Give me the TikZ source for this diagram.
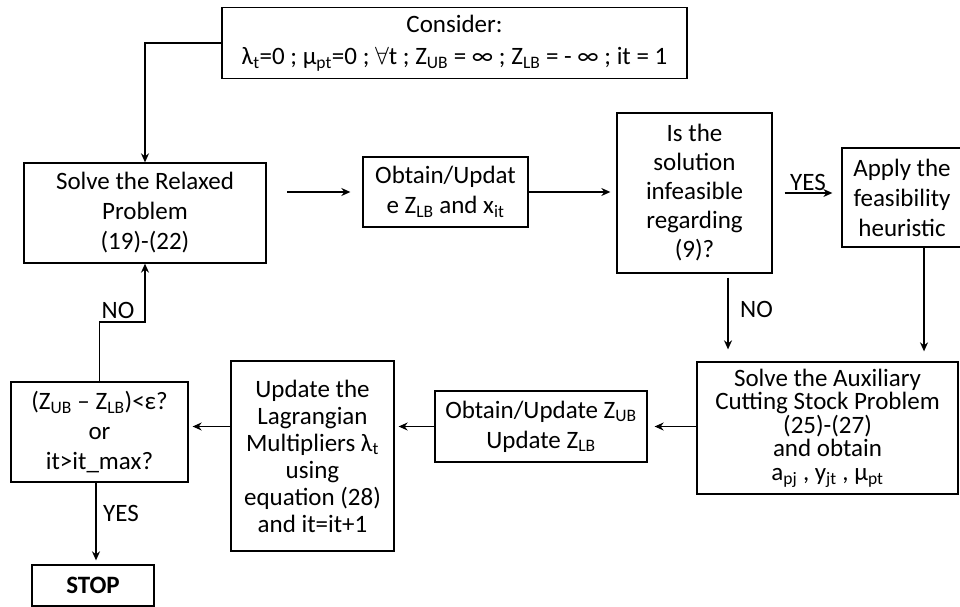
\documentclass[tikz,border=0pt]{standalone}
\usepackage{fontspec}
\setmainfont{Carlito}
\usetikzlibrary{arrows.meta}
\newcommand\sbs[1]{\textsubscript{#1}}
\begin{document}
\begin{tikzpicture}[x=1pt,y=-1pt,
  font=\fontsize{25}{30}\selectfont,
  box/.style={draw, line width=1.3pt, align=center, inner sep=1pt},
  arr/.style={-{Stealth[length=9pt,width=8pt]}, line width=1.3pt},
  lbl/.style={inner sep=0pt}]
\useasboundingbox (0,0) rectangle (960,607);
% boxes
\node[box, minimum width=465pt, minimum height=71pt, font=\fontsize{25}{32}\selectfont] (top) at (454.5,43)
  {Consider:\\ λ\sbs{t}=0 ; μ\sbs{pt}=0 ; $\forall$t ; Z\sbs{UB} = ∞ ; Z\sbs{LB} = - ∞ ; it = 1};
\node[box, minimum width=242pt, minimum height=100pt] (solve) at (145,213)
  {Solve the Relaxed\\Problem\\(19)-(22)};
\node[box, minimum width=165pt, minimum height=70pt] (obt1) at (445.5,192)
  {Obtain/Updat\\e Z\sbs{LB} and x\sbs{it}};
\node[box, minimum width=155pt, minimum height=160pt, font=\fontsize{25}{29}\selectfont] (isq) at (694.5,193)
  {Is the\\solution\\infeasible\\regarding\\(9)?};
\node[box, minimum width=120pt, minimum height=99pt] (apply) at (902,197.5)
  {Apply the\\feasibility\\heuristic};
\node[box, minimum width=261pt, minimum height=132pt, font=\fontsize{25}{23.5}\selectfont] (aux) at (827.5,428)
  {Solve the Auxiliary\\Cutting Stock Problem\\(25)-(27)\\and obtain\\a\sbs{pj} , y\sbs{jt} , μ\sbs{pt}};
\node[box, minimum width=212pt, minimum height=71pt] (obt2) at (541,426.5)
  {Obtain/Update Z\sbs{UB}\\Update Z\sbs{LB}};
\node[box, minimum width=163pt, minimum height=190pt, font=\fontsize{25}{27}\selectfont] (upd) at (312.5,456)
  {Update the\\Lagrangian\\Multipliers λ\sbs{t}\\using\\equation (28)\\and it=it+1};
\node[box, minimum width=177pt, minimum height=100pt] (chk) at (99.5,432)
  {(Z\sbs{UB} – Z\sbs{LB})<ε?\\or\\it>it\_max?};
\node[box, minimum width=122pt, minimum height=41pt, font=\fontsize{25}{30}\selectfont\bfseries] (stop) at (93,585.5)
  {STOP};
% connectors
\draw[arr] (top.west) -| (solve.north);
\coordinate (s1) at (287,192);
\draw[arr, shorten >=12pt] (s1) -- (s1 -| obt1.west);
\draw[arr, shorten >=6pt] (obt1.east) -- (obt1.east -| isq.west);
\draw[arr, shorten <=12pt, shorten >=9pt] (isq.east) -- (isq.east -| apply.west);
\node[lbl] (yes1) at (808,182) {YES};
\draw[arr, shorten <=4pt, shorten >=12pt] ([xshift=33.5pt]isq.south) -- ([xshift=33.5pt]isq.south |- aux.north);
\node[lbl, anchor=west] (no1) at (740,309) {NO};
\draw[arr, shorten >=10pt] ([xshift=22pt]apply.south) -- ([xshift=22pt]apply.south |- aux.north);
\draw[arr, shorten >=7pt] (obt2.west -| aux.west) -- (obt2.east);
\draw[arr, shorten >=4pt] (obt2.west) -- (obt2.west -| upd.east);
\draw[arr, shorten >=4pt] (obt2.west -| upd.west) -- (obt2.west -| chk.east);
\draw[arr, shorten >=4pt] ([xshift=-3.5pt]chk.south) -- ([xshift=-3.5pt]chk.south |- stop.north);
\node[lbl] (yes2) at (121,513) {YES};
\coordinate (nb) at (145,322);
\draw[arr] (chk.north) |- (nb) -- (solve.south);
\node[lbl] (no2) at (118,310) {NO};
\end{tikzpicture}
\end{document}
